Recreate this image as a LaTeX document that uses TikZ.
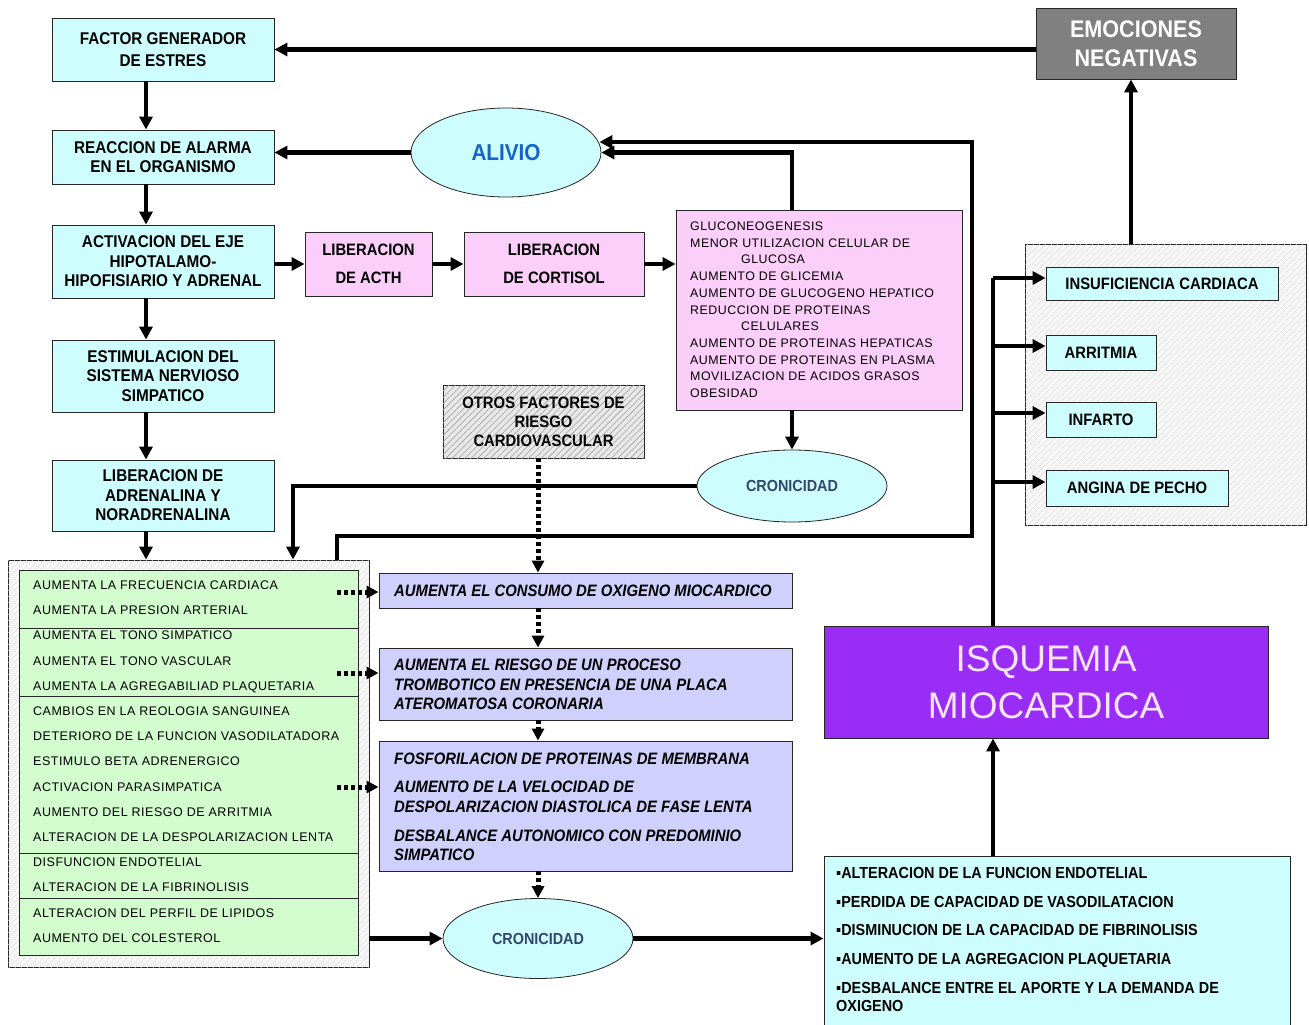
\documentclass[tikz,border=0pt]{standalone}
\usepackage{fontspec}
\setmainfont{Liberation Sans}
\newfontfamily\condB[FakeStretch=0.9]{Liberation Sans}
\newfontfamily\spaced[LetterSpace=4]{Liberation Sans}
\usetikzlibrary{arrows.meta,shapes.geometric,patterns.meta,calc}
\definecolor{cy}{RGB}{206,253,253}
\definecolor{pk}{RGB}{252,206,250}
\definecolor{gr}{RGB}{210,252,206}
\definecolor{pu}{RGB}{208,208,252}
\definecolor{isq}{RGB}{153,45,245}
\definecolor{isqt}{RGB}{250,228,250}
\definecolor{emoc}{RGB}{128,128,128}
\definecolor{alv}{RGB}{20,100,200}
\definecolor{cro}{RGB}{50,70,110}
\begin{document}
\begin{tikzpicture}[x=1pt,y=-1pt,
  box/.style={draw=black!85, line width=0.9pt, inner sep=0pt, align=center},
  cbox/.style={box, fill=cy, font=\condB\bfseries\fontsize{17}{19.5}\selectfont},
  ell/.style={ellipse, draw=black!85, line width=0.8pt, fill=cy, inner sep=0pt},
  conn/.style={line width=4.5pt, -{Triangle[length=13pt,width=13pt]}},
  link/.style={line width=4.5pt},
  dotc/.style={line width=5pt, dash pattern=on 4pt off 3pt, -{Triangle[length=12pt,width=12pt]}},
  ltxt/.style={anchor=base west, inner sep=0pt, font=\spaced\fontsize{12.5}{15}\selectfont},
  ptxt/.style={anchor=base west, inner sep=0pt, font=\spaced\fontsize{12.4}{15}\selectfont},
  itxt/.style={anchor=base west, inner sep=0pt, font=\condB\bfseries\itshape\fontsize{16.5}{19.5}\selectfont},
  btxt/.style={anchor=base west, inner sep=0pt, font=\condB\bfseries\fontsize{16}{18}\selectfont},
  hatchlight/.style={postaction={pattern={Lines[angle=45,distance=4pt,line width=0.5pt]}, pattern color=gray!30}},
  hatchdark/.style={postaction={pattern={Lines[angle=45,distance=4.5pt,line width=0.6pt]}, pattern color=gray!75}}
]
\fill[white] (0,0) rectangle (1309,1025);
\useasboundingbox (0,0) rectangle (1309,1025);

% helper coordinates
\coordinate (xa) at (293,0);
\coordinate (xb) at (337,0);
\coordinate (xc) at (146,0);
\coordinate (xd) at (538,0);
\coordinate (xr) at (972,0);
\coordinate (xv) at (993,0);
\coordinate (xe) at (1131,0);
\coordinate (yhi) at (0,142);
\coordinate (ylow) at (0,536);
\coordinate (yd1) at (0,592);
\coordinate (yd2) at (0,673);
\coordinate (yd3) at (0,787);
\coordinate (yb1) at (0,278);
\coordinate (yb2) at (0,346);
\coordinate (yb3) at (0,413);
\coordinate (yb4) at (0,482);

% large frames
\node[box, fill=gray!6, hatchlight, minimum width=361, minimum height=407] (gout) at (188.5,763.5) {};
\node[box, fill=gr, minimum width=339, minimum height=385] (gin) at (188.5,762.5) {};
\foreach \yy [count=\k] in {628,696,853,898} {
  \coordinate (dv\k) at (0,\yy);
  \draw[line width=0.9pt, black!85] (gin.west |- dv\k) -- (gin.east |- dv\k);
}
\node[box, fill=gray!6, hatchlight, minimum width=281, minimum height=281] (panel) at (1165.5,384.5) {};

% left column
\node[cbox, minimum width=222, minimum height=63, font=\condB\bfseries\fontsize{17}{22}\selectfont] (b1) at (163,49.5) {FACTOR GENERADOR\\DE ESTRES};
\node[cbox, minimum width=222, minimum height=54] (b2) at (163,157) {REACCION DE ALARMA\\EN EL ORGANISMO};
\node[cbox, minimum width=222, minimum height=73] (b3) at (163,261.5) {ACTIVACION DEL EJE\\HIPOTALAMO-\\HIPOFISIARIO Y ADRENAL};
\node[cbox, minimum width=222, minimum height=72] (b4) at (163,376) {ESTIMULACION DEL\\SISTEMA NERVIOSO\\SIMPATICO};
\node[cbox, minimum width=222, minimum height=71] (b5) at (163,495.5) {LIBERACION DE\\ADRENALINA Y\\NORADRENALINA};

% pink
\node[box, fill=pk, minimum width=127, minimum height=64, font=\condB\bfseries\fontsize{16.5}{28}\selectfont] (acth) at (368.5,264) {LIBERACION\\DE ACTH};
\node[box, fill=pk, minimum width=180, minimum height=64, font=\condB\bfseries\fontsize{16.5}{28}\selectfont] (cort) at (554,264) {LIBERACION\\DE CORTISOL};
\node[box, fill=pk, minimum width=286, minimum height=200] (pink) at (819,310) {};
\foreach \ind/\t [count=\i from 0] in {0/GLUCONEOGENESIS, 0/MENOR UTILIZACION CELULAR DE, 1/GLUCOSA, 0/AUMENTO DE GLICEMIA, 0/AUMENTO DE GLUCOGENO HEPATICO, 0/REDUCCION DE PROTEINAS, 1/CELULARES, 0/AUMENTO DE PROTEINAS HEPATICAS, 0/AUMENTO DE PROTEINAS EN PLASMA, 0/MOVILIZACION DE ACIDOS GRASOS, 0/OBESIDAD}
  \node[ptxt] (pl\i) at ({690+51*\ind},{230.5+16.7*\i}) {\t};

% ellipses
\node[ell, minimum width=190, minimum height=89, font=\condB\bfseries\fontsize{23}{26}\selectfont, text=alv] (alivio) at (506,152.5) {ALIVIO};
\node[ell, minimum width=190, minimum height=72, font=\condB\bfseries\fontsize{16}{18}\selectfont, text=cro] (cron1) at (792,486) {CRONICIDAD};
\node[ell, minimum width=190, minimum height=80, font=\condB\bfseries\fontsize{16}{18}\selectfont, text=cro] (cron2) at (538,938.5) {CRONICIDAD};

% otros factores
\node[box, fill=gray!18, hatchdark, minimum width=201, minimum height=73, font=\condB\bfseries\fontsize{16.5}{19}\selectfont] (otros) at (543.5,421.5) {OTROS FACTORES DE\\RIESGO\\CARDIOVASCULAR};

% green list
\foreach \t [count=\i from 0] in {AUMENTA LA FRECUENCIA CARDIACA, AUMENTA LA PRESION ARTERIAL, AUMENTA EL TONO SIMPATICO, AUMENTA EL TONO VASCULAR, AUMENTA LA AGREGABILIAD PLAQUETARIA, CAMBIOS EN LA REOLOGIA SANGUINEA, DETERIORO DE LA FUNCION VASODILATADORA, ESTIMULO BETA ADRENERGICO, ACTIVACION PARASIMPATICA, AUMENTO DEL RIESGO DE ARRITMIA, ALTERACION DE LA DESPOLARIZACION LENTA, DISFUNCION ENDOTELIAL, ALTERACION DE LA FIBRINOLISIS, ALTERACION DEL PERFIL DE LIPIDOS, AUMENTO DEL COLESTEROL}
  \node[ltxt] (gl\i) at (33,{589.5+25.2*\i}) {\t};

% purple boxes
\node[box, fill=pu, minimum width=413, minimum height=35] (p1) at (585.5,590.5) {};
\node[box, fill=pu, minimum width=413, minimum height=72] (p2) at (585.5,684) {};
\node[box, fill=pu, minimum width=413, minimum height=130] (p3) at (585.5,806) {};
\node[itxt] (pt1) at (394,596) {AUMENTA EL CONSUMO DE OXIGENO MIOCARDICO};
\node[itxt] (pt2) at (394,670) {AUMENTA EL RIESGO DE UN PROCESO};
\node[itxt] (pt3) at (394,690) {TROMBOTICO EN PRESENCIA DE UNA PLACA};
\node[itxt] (pt4) at (394,709) {ATEROMATOSA CORONARIA};
\node[itxt] (pt5) at (394,764) {FOSFORILACION DE PROTEINAS DE MEMBRANA};
\node[itxt] (pt6) at (394,792) {AUMENTO DE LA VELOCIDAD DE};
\node[itxt] (pt7) at (394,812) {DESPOLARIZACION DIASTOLICA DE FASE LENTA};
\node[itxt] (pt8) at (394,841) {DESBALANCE AUTONOMICO CON PREDOMINIO};
\node[itxt] (pt9) at (394,860) {SIMPATICO};

% bottom right
\node[box, fill=cy, minimum width=466, minimum height=170] (br) at (1057,941) {};
\node[btxt] (bt1) at (836,878.8) {▪ALTERACION DE LA FUNCION ENDOTELIAL};
\node[btxt] (bt2) at (836,907.8) {▪PERDIDA DE CAPACIDAD DE VASODILATACION};
\node[btxt] (bt3) at (836,935.8) {▪DISMINUCION DE LA CAPACIDAD DE FIBRINOLISIS};
\node[btxt] (bt4) at (836,964.8) {▪AUMENTO DE LA AGREGACION PLAQUETARIA};
\node[btxt] (bt5) at (836,993.8) {▪DESBALANCE ENTRE EL APORTE Y LA DEMANDA DE};
\node[btxt] (bt6) at (836,1011.8) {OXIGENO};

% isquemia
\node[box, fill=isq, text=isqt, minimum width=444, minimum height=112, font=\fontsize{37}{47}\selectfont] (isq) at (1046,682) {ISQUEMIA\\MIOCARDICA};

% emociones
\node[box, fill=emoc, text=white, minimum width=200, minimum height=71, font=\condB\bfseries\fontsize{24}{29}\selectfont] (emo) at (1136,43.5) {EMOCIONES\\NEGATIVAS};

% right panel boxes
\node[box, fill=cy, minimum width=232, minimum height=33, font=\condB\bfseries\fontsize{16.5}{19}\selectfont] (insuf) at (1162,283.5) {INSUFICIENCIA CARDIACA};
\node[box, fill=cy, minimum width=110, minimum height=35, font=\condB\bfseries\fontsize{16.5}{19}\selectfont] (arr) at (1101,352.5) {ARRITMIA};
\node[box, fill=cy, minimum width=110, minimum height=35, font=\condB\bfseries\fontsize{16.5}{19}\selectfont] (inf) at (1101,419.5) {INFARTO};
\node[box, fill=cy, minimum width=182, minimum height=36, font=\condB\bfseries\fontsize{16.5}{19}\selectfont] (ang) at (1137,488) {ANGINA DE PECHO};

% ---------- connectors ----------
\draw[conn] (emo.west |- b1.east) -- (b1.east);
\draw[conn] (xc |- b1.south) -- (xc |- b2.north);
\draw[conn] (xc |- b2.south) -- (xc |- b3.north);
\draw[conn] (xc |- b3.south) -- (xc |- b4.north);
\draw[conn] (xc |- b4.south) -- (xc |- b5.north);
\draw[conn] (xc |- b5.south) -- (xc |- gout.north);
\draw[conn] (alivio.west) -- (alivio.west -| b2.east);
\draw[conn] (acth.west -| b3.east) -- (acth.west);
\draw[conn] (acth.east |- cort.west) -- (cort.west);
\draw[conn] (cort.east) -- (cort.east -| pink.west);
\draw[conn] (pink.north -| cron1.north) |- (alivio.east);
\draw[conn] (xb |- gout.north) -- (xb |- ylow) -| (xr |- yhi) -- ($(alivio.east |- yhi)+(-2,0)$);
\draw[conn] (pink.south -| cron1.north) -- (cron1.north);
\draw[conn] (cron1.west) -| (xa |- gout.north);
\draw[conn] (cron2.west -| gout.east) -- (cron2.west);
\draw[conn] (cron2.east) -- (cron2.east -| br.west);
\draw[conn] (xv |- br.north) -- (xv |- isq.south);
\draw[link] (xv |- isq.north) -- (xv |- yb1);
\draw[conn] (xv |- yb1) -- (insuf.west |- yb1);
\draw[conn] (xv |- yb2) -- (arr.west |- yb2);
\draw[conn] (xv |- yb3) -- (inf.west |- yb3);
\draw[conn] (xv |- yb4) -- (ang.west |- yb4);
\draw[conn] (xe |- panel.north) -- (xe |- emo.south);

% dotted
\draw[dotc] (xd |- otros.south) -- (xd |- p1.north);
\draw[dotc] (xd |- p1.south) -- (xd |- p2.north);
\draw[dotc] (xd |- p2.south) -- (xd |- p3.north);
\draw[dotc] (xd |- p3.south) -- (xd |- cron2.north);
\draw[dotc] (xb |- yd1) -- (p1.west |- yd1);
\draw[dotc] (xb |- yd2) -- (p2.west |- yd2);
\draw[dotc] (xb |- yd3) -- (p3.west |- yd3);
\end{tikzpicture}
\end{document}
